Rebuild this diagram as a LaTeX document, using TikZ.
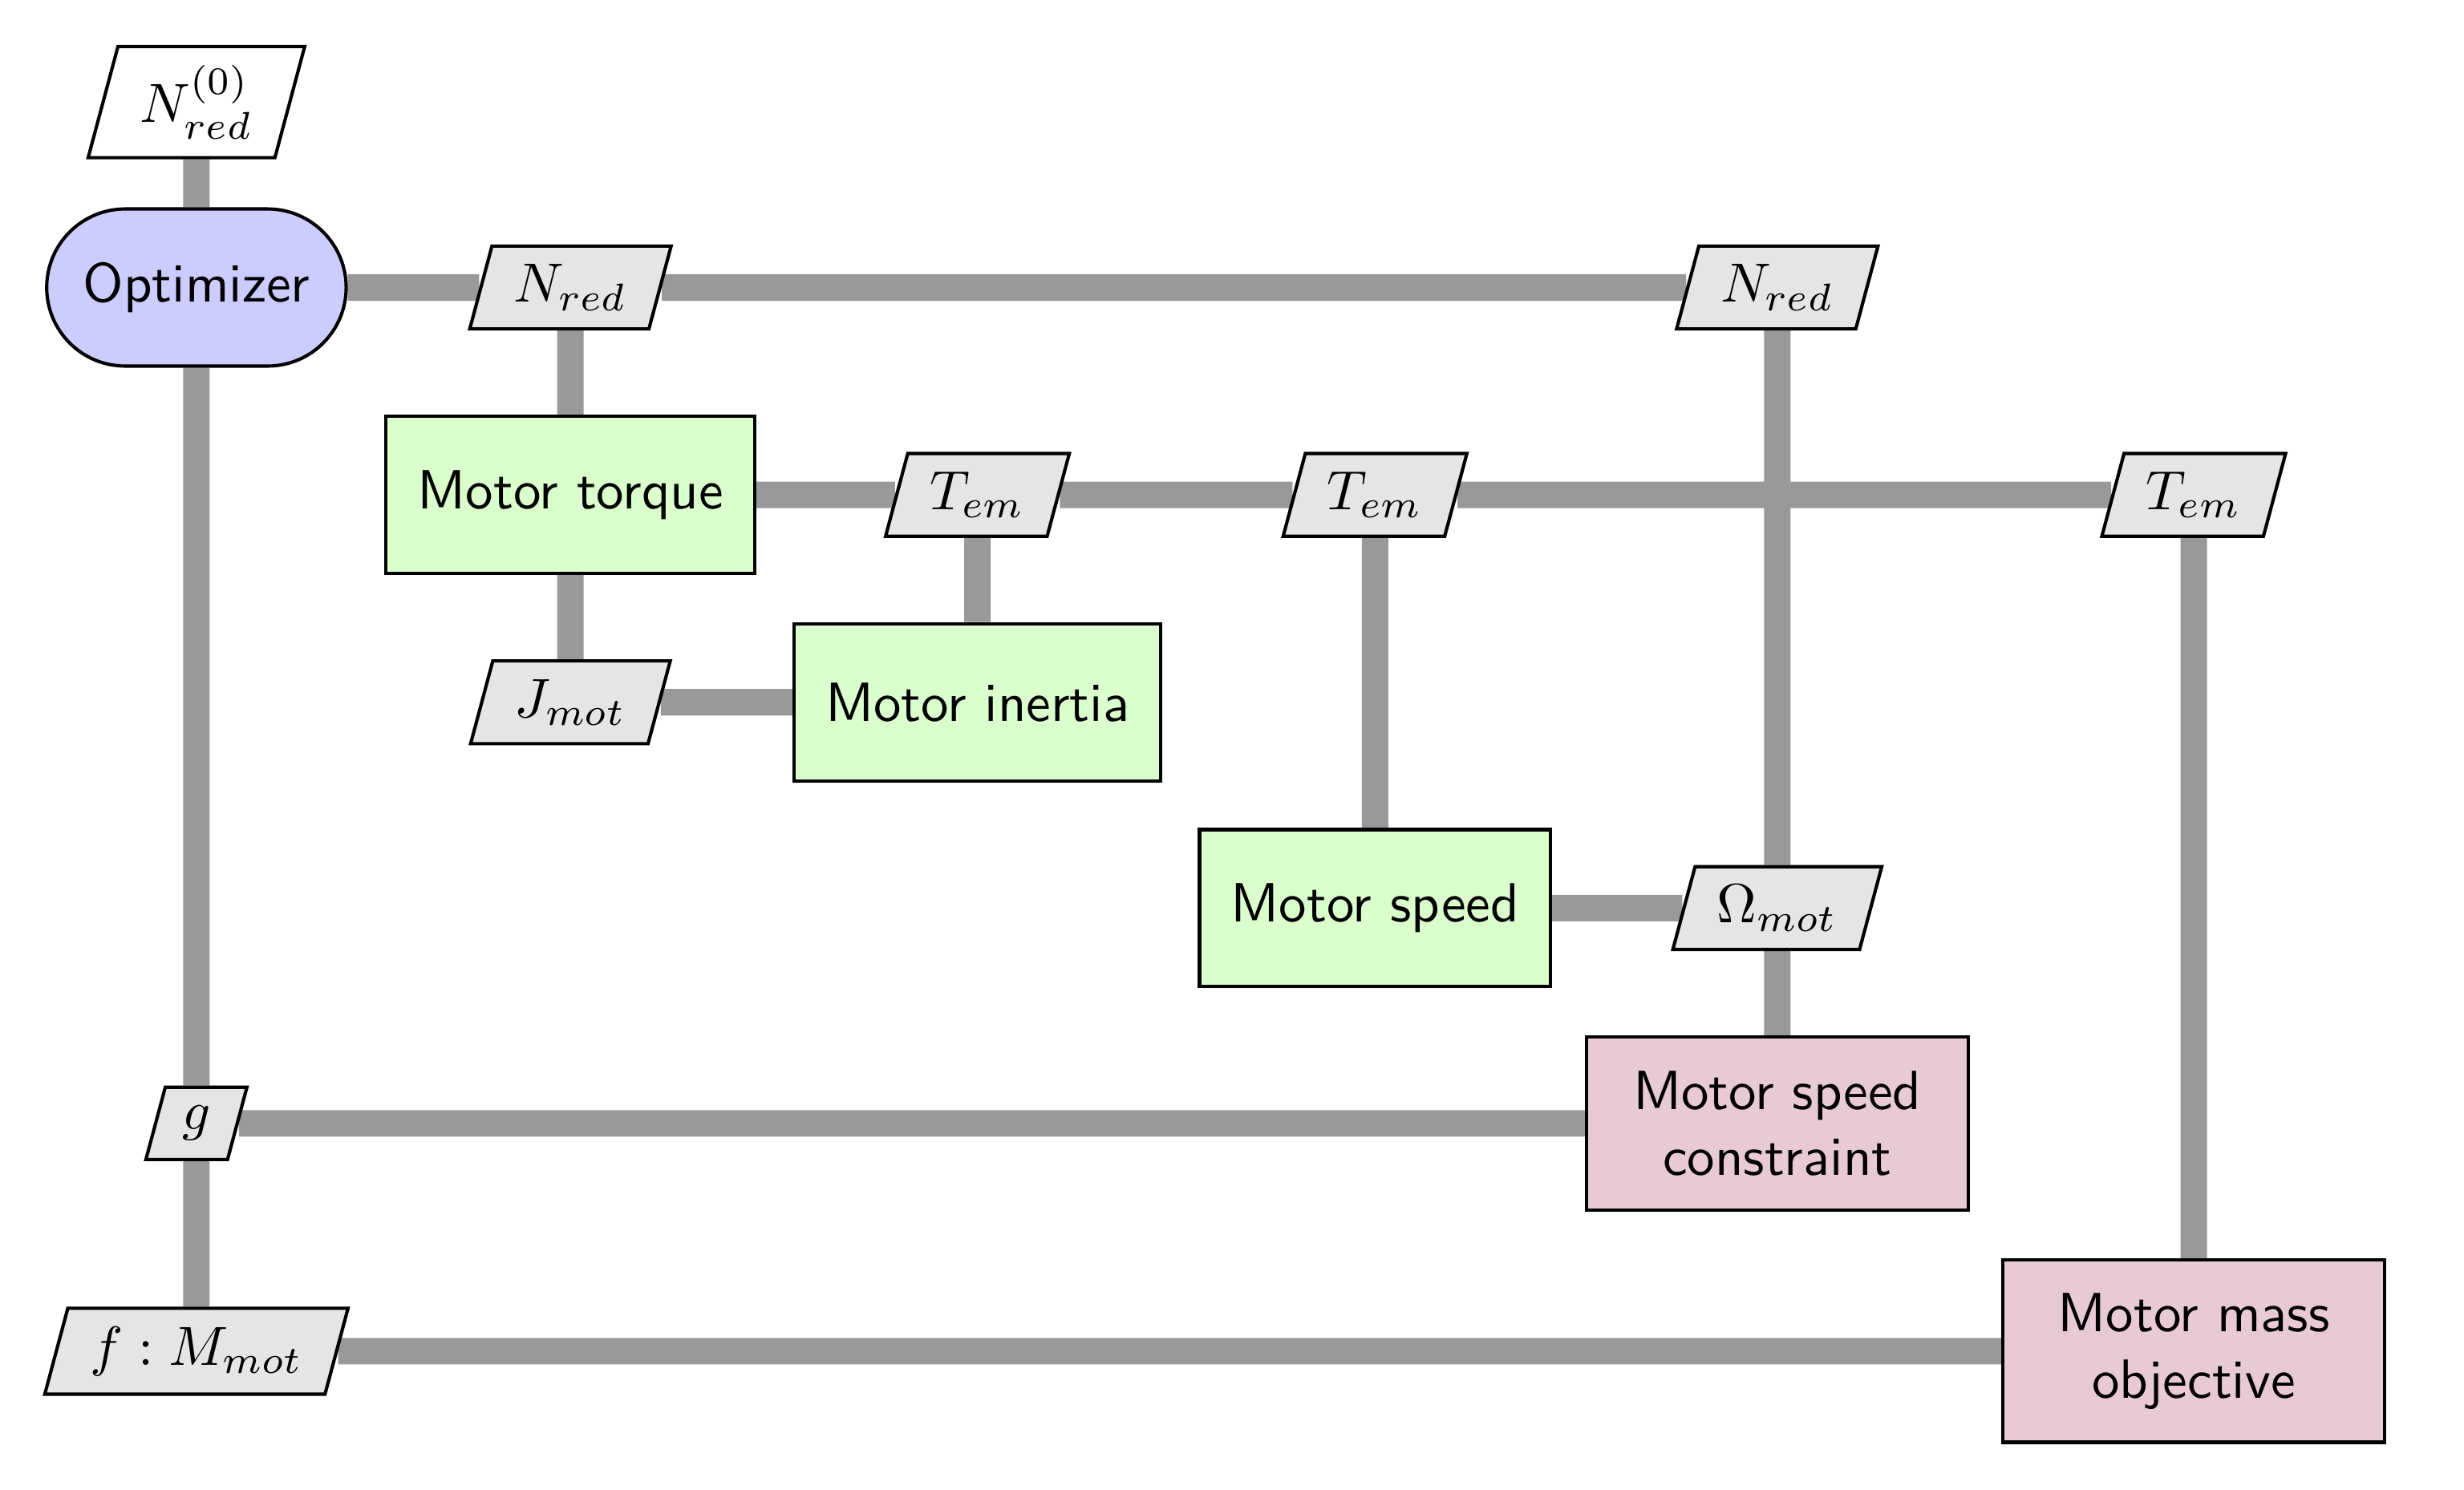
\documentclass[tikz,border=0pt]{standalone}
\usetikzlibrary{shapes.geometric,shapes.misc,backgrounds}
\definecolor{optfill}{HTML}{CCCCFF}
\definecolor{funcfill}{HTML}{DAFFCC}
\definecolor{targetfill}{HTML}{E8CAD7}
\definecolor{datafill}{HTML}{E5E5E5}
\definecolor{linkgray}{HTML}{999999}
\begin{document}
\begin{tikzpicture}[x=1cm, y=-1cm]
        \useasboundingbox (0,0) rectangle (15.68,9.48);
        \begin{scope}
            \tikzstyle{every node}=[draw=black, semithick, text=black, font=\sffamily]
            \tikzstyle{optimizer}=[rounded rectangle, fill=optfill, minimum width=2.14cm, minimum height=1cm]
            \tikzstyle{function}=[rectangle, fill=funcfill, inner xsep=0.2cm, minimum height=1cm]
            \tikzstyle{target}=[rectangle, fill=targetfill, align=center, minimum width=2.43cm, minimum height=1.1cm]
            \tikzstyle{data}=[trapezium, trapezium left angle=75, trapezium right angle=105, fill=datafill, inner xsep=4pt, minimum height=0.52cm]
            \node[data, fill=white, minimum height=0.7cm] (n0) at (1.25,0.65) {$N_{red}^{(0)}$};
            \node[optimizer] (opt) at (1.25,1.83) {Optimizer};
            \node[data] (nreda) at (3.63,1.83) {$N_{red}$};
            \node[data] (nredb) at (11.31,1.83) {$N_{red}$};
            \node[function] (torque) at (3.63,3.15) {Motor torque};
            \node[data] (tema) at (6.22,3.15) {$T_{em}$};
            \node[data] (temb) at (8.75,3.15) {$T_{em}$};
            \node[data] (temc) at (13.96,3.15) {$T_{em}$};
            \node[data] (jmot) at (3.63,4.47) {$J_{mot}$};
            \node[function] (inertia) at (6.22,4.47) {Motor inertia};
            \node[function] (speed) at (8.75,5.78) {Motor speed};
            \node[data] (omega) at (11.31,5.78) {$\Omega_{mot}$};
            \node[target] (cons) at (11.31,7.15) {Motor speed\\constraint};
            \node[data, inner xsep=3pt, minimum height=0.46cm] (gcon) at (1.25,7.15) {$g$};
            \node[data] (fobj) at (1.25,8.60) {$f : M_{mot}$};
            \node[target, minimum height=1.16cm] (obj) at (13.96,8.60) {Motor mass\\objective};
        \end{scope}
        \begin{scope}[on background layer]
            \tikzstyle{every edge}=[draw, linkgray, line width=4.8pt]
            \path
            (n0) edge[] (opt)
            (opt) edge[] (gcon)
            (gcon) edge[] (fobj)
            (opt) edge[] (nreda)
            (nreda) edge[] (nredb)
            (nreda) edge[] (torque)
            (torque) edge[] (jmot)
            (torque) edge[] (tema)
            (tema) edge[] (temb)
            (temb) edge[] (temc)
            (tema) edge[] (inertia)
            (jmot) edge[] (inertia)
            (temb) edge[] (speed)
            (speed) edge[] (omega)
            (nredb) edge[] (omega)
            (omega) edge[] (cons)
            (gcon) edge[] (cons)
            (temc) edge[] (obj)
            (fobj) edge[] (obj);
        \end{scope}
    \end{tikzpicture}
\end{document}
